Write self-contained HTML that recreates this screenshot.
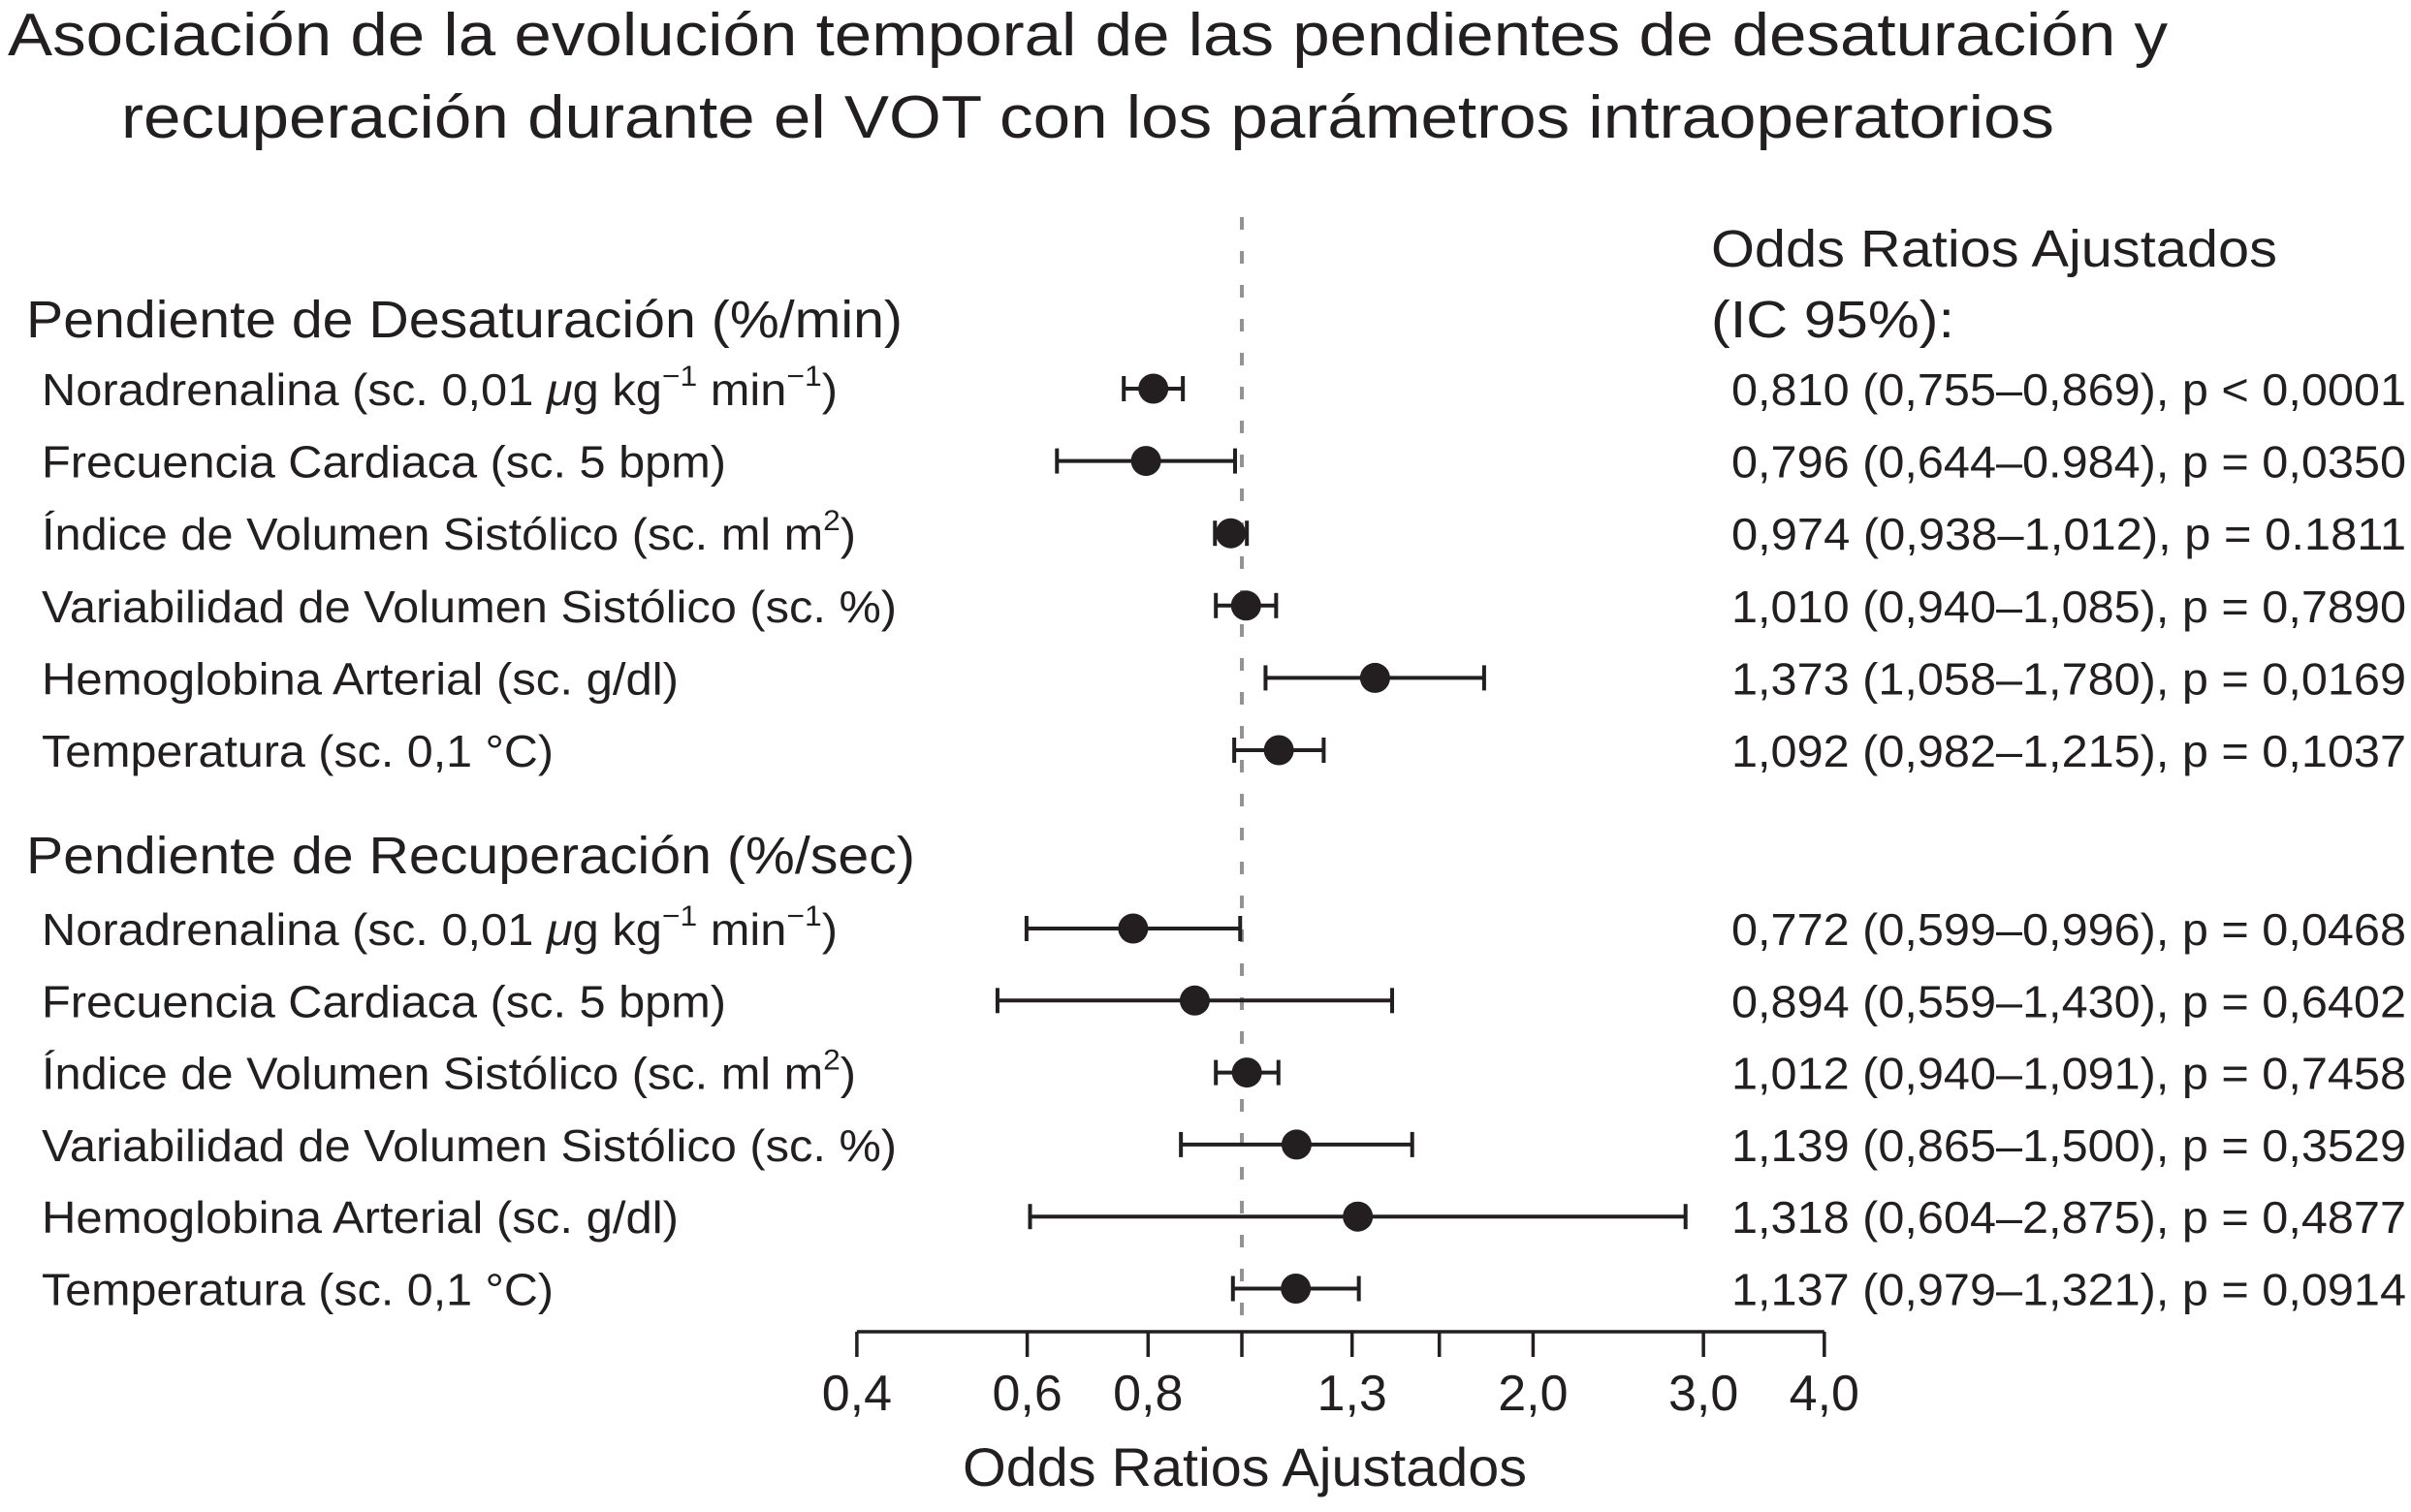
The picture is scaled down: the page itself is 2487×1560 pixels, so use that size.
<!DOCTYPE html>
<html><head><meta charset="utf-8"><style>
html,body{margin:0;padding:0;background:#fff;}
svg{display:block;font-family:"Liberation Sans",Arial,sans-serif;}
</style></head><body>
<svg id="chart" width="2487" height="1560" viewBox="0 0 2487 1560" xmlns="http://www.w3.org/2000/svg">
<g fill="#231f20">
<text x="8" y="57" font-size="62" textLength="2228" lengthAdjust="spacingAndGlyphs">Asociación de la evolución temporal de las pendientes de desaturación y</text>
<text x="125" y="142" font-size="62" textLength="1994" lengthAdjust="spacingAndGlyphs">recuperación durante el VOT con los parámetros intraoperatorios</text>
<text x="27" y="348" font-size="54" textLength="904" lengthAdjust="spacingAndGlyphs">Pendiente de Desaturación (%/min)</text>
<text x="27" y="901" font-size="54" textLength="917" lengthAdjust="spacingAndGlyphs">Pendiente de Recuperación (%/sec)</text>
<text x="1765" y="275" font-size="54" textLength="584" lengthAdjust="spacingAndGlyphs">Odds Ratios Ajustados</text>
<text x="1765" y="348" font-size="54" textLength="251" lengthAdjust="spacingAndGlyphs">(IC 95%):</text>
<text x="993" y="1533" font-size="56" textLength="582" lengthAdjust="spacingAndGlyphs">Odds Ratios Ajustados</text>
</g>
<g id="plot"></g>
</svg>
<script>
const labels = ["Noradrenalina","Frecuencia Cardiaca (sc. 5 bpm)","Índice de Volumen Sistólico","Variabilidad de Volumen Sistólico (sc. %)","Hemoglobina Arterial (sc. g/dl)","Temperatura (sc. 0,1 °C)","Noradrenalina","Frecuencia Cardiaca (sc. 5 bpm)","Índice de Volumen Sistólico","Variabilidad de Volumen Sistólico (sc. %)","Hemoglobina Arterial (sc. g/dl)","Temperatura (sc. 0,1 °C)"];
const orValues = [0.810,0.796,0.974,1.010,1.373,1.092,0.772,0.894,1.012,1.139,1.318,1.137];
const ciLow = [0.755,0.644,0.938,0.940,1.058,0.982,0.599,0.559,0.940,0.865,0.604,0.979];
const ciHigh = [0.869,0.984,1.012,1.085,1.780,1.215,0.996,1.430,1.091,1.500,2.875,1.321];
const pTexts = ["p < 0,0001","p = 0,0350","p = 0.1811","p = 0,7890","p = 0,0169","p = 0,1037","p = 0,0468","p = 0,6402","p = 0,7458","p = 0,3529","p = 0,4877","p = 0,0914"];
const orTexts = ["0,810 (0,755–0,869)","0,796 (0,644–0.984)","0,974 (0,938–1,012)","1,010 (0,940–1,085)","1,373 (1,058–1,780)","1,092 (0,982–1,215)","0,772 (0,599–0,996)","0,894 (0,559–1,430)","1,012 (0,940–1,091)","1,139 (0,865–1,500)","1,318 (0,604–2,875)","1,137 (0,979–1,321)"];
const tickValues = [0.4,0.6,0.8,1.0,1.3,1.6,2.0,3.0,4.0];
const tickLabels = ["0,4","0,6","0,8","","1,3","","2,0","3,0","4,0"];

const NS="http://www.w3.org/2000/svg";
const g=document.getElementById('plot');
const X0=1281, K=433.4;
function xScale(v){return X0+Math.log(v)*K;}
function yRow(i){return i<6 ? 401+i*74.6 : 958+(i-6)*74.3;}
function mk(tag,attrs){const e=document.createElementNS(NS,tag);for(const k in attrs)e.setAttribute(k,attrs[k]);g.appendChild(e);return e;}
const labelWidths=[821,706,840,882,657,528,821,706,840,882,657,528];

const ref=mk('line',{x1:xScale(1),x2:xScale(1),y1:224,y2:1374,stroke:'#939393','stroke-width':4,'stroke-dasharray':'13 22'});



const ax=mk('line',{x1:xScale(0.4),x2:xScale(4),y1:1374,y2:1374,stroke:'#231f20','stroke-width':3.5});


tickValues.forEach((v,i)=>{
  const t=mk('line',{x1:xScale(v),x2:xScale(v),y1:1374,y2:1400,stroke:'#231f20','stroke-width':3.5});
  
  
  if(tickLabels[i]){
    const tl=mk('text',{x:xScale(v),y:1455,'font-size':52,'text-anchor':'middle',fill:'#231f20'});
    tl.textContent=tickLabels[i];
    
    
  }
});

labels.forEach((lab,i)=>{
  const y=yRow(i);
  const t=mk('text',{x:43,y:y+17,'font-size':46,fill:'#231f20',textLength:labelWidths[i],lengthAdjust:'spacingAndGlyphs'});
  if(lab==="Noradrenalina"){
    t.innerHTML='Noradrenalina (sc. 0,01 <tspan font-style="italic">μ</tspan>g kg<tspan dy="-20" font-size="30">−1</tspan><tspan dy="20"> min</tspan><tspan dy="-20" font-size="30">−1</tspan><tspan dy="20">)</tspan>';
  } else if(lab==="Índice de Volumen Sistólico"){
    t.innerHTML='Índice de Volumen Sistólico (sc. ml m<tspan dy="-20" font-size="30">2</tspan><tspan dy="20">)</tspan>';
  } else t.textContent=lab;
  
  

  const r=mk('text',{x:1786,y:y+17,'font-size':46,fill:'#231f20',textLength:696,lengthAdjust:'spacingAndGlyphs'});
  r.textContent=orTexts[i]+', '+pTexts[i];
  
  

  const x1=xScale(ciLow[i]), x2=xScale(ciHigh[i]);
  const ci=mk('line',{x1:x1,x2:x2,y1:y,y2:y,stroke:'#231f20','stroke-width':4});
  
  
  [x1,x2].forEach(cx=>{
    const c=mk('line',{x1:cx,x2:cx,y1:y-13,y2:y+13,stroke:'#231f20','stroke-width':4});
    
    
  });
  const p=mk('circle',{cx:xScale(orValues[i]),cy:y,r:15.5,fill:'#231f20'});
  
  
});
</script>
</body></html>
